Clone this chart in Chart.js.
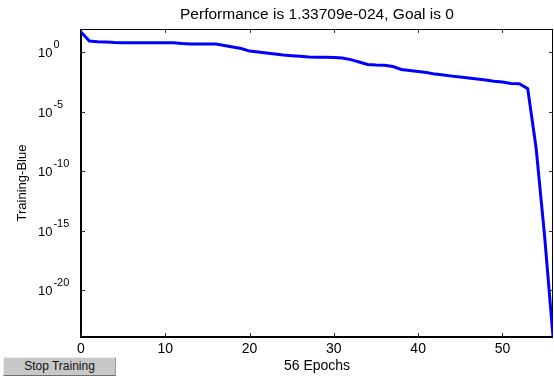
<!DOCTYPE html>
<html>
<head>
<meta charset="utf-8">
<title>Performance</title>
<script src="https://cdn.jsdelivr.net/npm/chart.js@4.4.1/dist/chart.umd.min.js"></script>
<style>
  body { margin: 0; background: #fff; }
  #wrap { position: relative; width: 554px; height: 378px; overflow: hidden; background: #fff; }
  #stop-btn {
    position: absolute; left: 3px; top: 357px; width: 111px; height: 17px;
    background: #c8c8c8; border-top: 1px solid #ececec; border-left: 1px solid #ececec;
    border-right: 1px solid #9a9a9a; border-bottom: 1px solid #6e6e6e;
    font: 12px "Liberation Sans", Arial, sans-serif; color: #111;
    text-align: center; line-height: 17px;
  }
</style>
</head>
<body>
<div id="wrap">
  <canvas id="perf" width="554" height="378"></canvas>
  <div id="stop-btn">Stop Training</div>
</div>
<script>
const epochs = [0, 1, 2, 3, 4, 5, 6, 7, 8, 9, 10, 11, 12, 13, 14, 15, 16, 17, 18, 19,
  20, 21, 22, 23, 24, 25, 26, 27, 28, 29, 30, 31, 32, 33, 34, 35, 36, 37, 38, 39,
  40, 41, 42, 43, 44, 45, 46, 47, 48, 49, 50, 51, 52, 53, 54, 55, 56];
const trainPerf = [47.9, 8.3, 7.4, 6.9, 6.3, 6.0, 6.0, 6.0, 6.0, 6.0, 6.0, 6.0, 5.1, 4.7, 4.7, 4.7, 4.7, 3.5, 2.6, 1.95,
  1.2, 1.0, 0.83, 0.68, 0.56, 0.49, 0.44, 0.38, 0.36, 0.355, 0.35, 0.32, 0.23, 0.145, 0.089, 0.081, 0.078, 0.060, 0.034, 0.028,
  0.023, 0.019, 0.014, 0.0117, 0.0095, 0.0079, 0.0066, 0.0054, 0.0045, 0.0036, 0.0030, 0.0023, 0.0022, 8.5e-4, 8.5e-9, 4e-16, 1.33709e-24];
const xTicks = [0, 10, 20, 30, 40, 50];
const yTicks = [1e-20, 1e-15, 1e-10, 1e-5, 1];
const yMin = 1.26e-24;
const yMax = 85;

const fontFamily = '"Liberation Sans", Arial, sans-serif';

// box round the axes, ticks pointing inward, and 10^n labels
const matlabAxes = {
  id: 'matlabAxes',
  beforeDatasetsDraw(chart) {
    const { ctx, chartArea: a, scales: { x, y } } = chart;
    ctx.save();
    ctx.strokeStyle = '#000';
    ctx.lineWidth = 1;
    ctx.beginPath();
    ctx.moveTo(a.left, a.top + 0.5); ctx.lineTo(a.right, a.top + 0.5);
    ctx.moveTo(a.right - 0.5, a.top); ctx.lineTo(a.right - 0.5, a.bottom);
    ctx.stroke();
    ctx.lineWidth = 2;
    ctx.beginPath();
    ctx.moveTo(a.left, a.top); ctx.lineTo(a.left, a.bottom);
    ctx.lineTo(a.right, a.bottom);
    ctx.stroke();

    ctx.lineWidth = 1;
    ctx.strokeStyle = '#333';
    ctx.beginPath();
    xTicks.forEach(v => {
      const px = Math.round(x.getPixelForValue(v)) + 0.5;
      ctx.moveTo(px, a.bottom); ctx.lineTo(px, a.bottom - 4);
      ctx.moveTo(px, a.top); ctx.lineTo(px, a.top + 4);
    });
    yTicks.forEach(v => {
      const py = Math.round(y.getPixelForValue(v)) + 0.5;
      ctx.moveTo(a.left, py); ctx.lineTo(a.left + 4, py);
      ctx.moveTo(a.right, py); ctx.lineTo(a.right - 4, py);
    });
    ctx.stroke();

    ctx.fillStyle = '#000';
    ctx.textBaseline = 'alphabetic';
    ctx.textAlign = 'left';
    yTicks.forEach(v => {
      const py = y.getPixelForValue(v);
      ctx.font = '13px ' + fontFamily;
      ctx.fillText('10', 38, py + 5);
      const w = ctx.measureText('10').width;
      ctx.font = '11px ' + fontFamily;
      ctx.fillText(Math.log10(v).toFixed(0), 38 + w + 1, py - 4);
    });
    ctx.restore();
  }
};

new Chart(document.getElementById('perf'), {
  type: 'line',
  data: {
    labels: epochs,
    datasets: [{
      label: 'Training',
      data: epochs.map((e, i) => ({ x: e, y: trainPerf[i] })),
      borderColor: '#0000ff',
      borderWidth: 3,
      pointRadius: 0,
      tension: 0,
      fill: false
    }]
  },
  options: {
    responsive: false,
    animation: false,
    devicePixelRatio: 1,
    layout: { padding: { left: 0, right: 1, top: 0, bottom: 0 } },
    plugins: {
      legend: { display: false },
      tooltip: { enabled: false },
      title: {
        display: true,
        fullSize: false,
        text: 'Performance is 1.33709e-024, Goal is 0',
        color: '#000',
        font: { family: fontFamily, size: 15.5, weight: 'normal' },
        padding: { top: 5, bottom: 5.4 }
      }
    },
    scales: {
      x: {
        type: 'linear',
        min: 0,
        max: 56,
        grid: { display: false, drawTicks: false },
        border: { display: false },
        afterBuildTicks: s => { s.ticks = xTicks.map(v => ({ value: v })); },
        afterFit: s => { s.height = 41; },
        ticks: {
          color: '#000',
          padding: 4,
          maxRotation: 0,
          font: { family: fontFamily, size: 14 }
        },
        title: {
          display: true,
          text: '56 Epochs',
          color: '#000',
          font: { family: fontFamily, size: 14 },
          padding: { top: 0, bottom: 3 }
        }
      },
      y: {
        type: 'logarithmic',
        min: yMin,
        max: yMax,
        grid: { display: false, drawTicks: false },
        border: { display: false },
        afterBuildTicks: s => { s.ticks = yTicks.map(v => ({ value: v })); },
        afterFit: s => { s.width = 81; },
        ticks: { display: false },
        title: {
          display: true,
          text: 'Training-Blue',
          color: '#000',
          font: { family: fontFamily, size: 13 },
          padding: { top: 15, bottom: 0 }
        }
      }
    }
  },
  plugins: [matlabAxes]
});
</script>
</body>
</html>
